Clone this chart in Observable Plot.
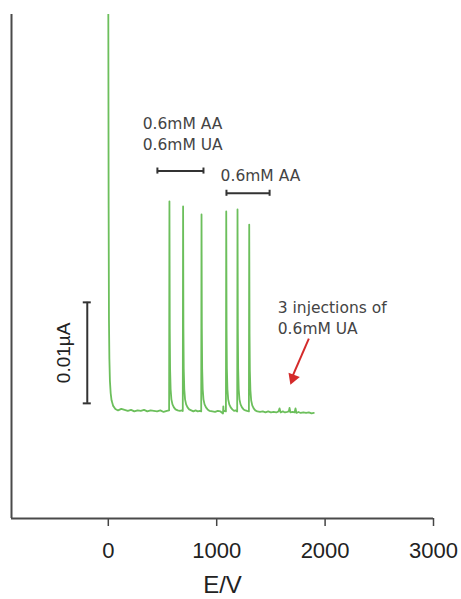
<!DOCTYPE html>
<html>
<head>
<meta charset="utf-8">
<script src="https://cdn.jsdelivr.net/npm/d3@7"></script>
<script src="https://cdn.jsdelivr.net/npm/@observablehq/plot@0.6"></script>
<style>
  html, body { margin: 0; padding: 0; background: #fff; }
  #chart { width: 461px; height: 599px; }
</style>
</head>
<body>
<div id="chart"></div>
<script>
// Amperometric trace (x: E/V axis units, y: current in nA; 10 nA = 0.01 µA)
const traceX = [
  -3, 0, 3, 6, 10, 15, 22, 30, 45, 65, 90, 120, 150, 180, 210, 240, 270, 300, 330, 360, 390, 420, 450, 480, 510, 540, 561,
  564, 567, 570, 575, 582, 592, 605, 620, 640, 660, 680, 687,
  690, 693, 696, 701, 708, 718, 731, 746, 765, 785, 805, 825, 845, 857,
  860, 863, 866, 871, 878, 888, 901, 916, 935, 960, 985, 1010, 1035, 1058, 1061, 1064, 1075, 1085,
  1088, 1091, 1094, 1099, 1106, 1116, 1129, 1144, 1160, 1175, 1189,
  1192, 1195, 1198, 1203, 1210, 1220, 1233, 1248, 1265, 1280, 1297,
  1300, 1303, 1306, 1311, 1318, 1328, 1341, 1356, 1375, 1400, 1425, 1450, 1475, 1500, 1525, 1550, 1570, 1580, 1590,
  1610, 1630, 1650, 1665, 1672, 1680, 1700, 1718, 1727, 1736, 1755, 1775, 1800, 1825, 1850, 1875, 1896
];
const traceY = [
  60, 40, 20, 9, 5, 2.8, 1.6, 0.9, 0.35, 0.05, -0.1, 0.05, -0.05, -0.15, -0.05, -0.2, -0.1, -0.15, -0.05, -0.2, -0.1, -0.15, -0.2, -0.1, -0.25, -0.15, -0.1,
  20.6, 8, 4, 2, 1, 0.5, 0.2, 0.0, -0.1, -0.15, -0.1, -0.15,
  20.1, 8, 4, 2, 1, 0.5, 0.2, 0.0, -0.1, -0.2, -0.1, -0.2, -0.15, -0.2,
  19.3, 8, 4, 2, 1, 0.5, 0.2, 0.0, -0.15, -0.2, -0.25, -0.15, -0.2, -0.4, 0.3, -0.2, -0.15, -0.2,
  19.6, 8, 4, 2, 1, 0.5, 0.2, 0.0, -0.15, -0.1, -0.2,
  19.8, 8, 4, 2, 1, 0.5, 0.2, 0.0, -0.1, -0.15, -0.2,
  18.3, 7.5, 3.8, 1.9, 0.9, 0.4, 0.1, -0.1, -0.2, -0.25, -0.2, -0.3, -0.2, -0.3, -0.25, -0.3, -0.2, 0.1, -0.3,
  -0.2, -0.3, -0.25, -0.2, 0.15, -0.3, -0.25, -0.3, 0.1, -0.35, -0.25, -0.35, -0.3, -0.35, -0.3, -0.4, -0.35
];
const trace = traceX.map((x, i) => ({x, y: traceY[i]}));

// axis
const xTicks = [0, 1000, 2000, 3000];
const xDomain = [-893, 3000];
const yDomain = [-10.8, 39.1];
const xLabel = "E/V";

// concentration brackets
const bracketX1 = [453, 1090];
const bracketX2 = [878, 1488];
const bracketY = [23.6, 21.4];
const brackets = bracketY.map((y, i) => ({x1: bracketX1[i], x2: bracketX2[i], y}));

// annotation texts
const noteText = ["0.6mM AA\n0.6mM UA", "0.6mM AA", "3 injections of\n0.6mM UA"];
const noteX = [317, 1036, 1563];
const noteY = [29.2, 24.1, 11.0];
const notes = noteText.map((t, i) => ({t, x: noteX[i], y: noteY[i]}));

// arrow
const arrowFrom = {x: 1850, y: 7.0};
const arrowTo = {x: 1700, y: 3.3};
const arrowTip = {x: 1703, y: 3.1};

// scale bar: 0.01 µA = 10 nA
const scaleX = -194;
const scaleY = [0.6, 10.6];
const scaleLabel = "0.01µA";
const scaleLabelX = -412;

const capDx = 37;   // half width of scale bar caps (x units)
const capDy = 0.3;  // half height of bracket caps (y units)

const font = "'Liberation Sans', Arial, sans-serif";
const noteFont = "'DejaVu Sans', sans-serif";

const chart = Plot.plot({
  width: 461,
  height: 599,
  marginTop: 14,
  marginBottom: 81,
  marginLeft: 11,
  marginRight: 28,
  style: {fontFamily: font, background: "#fff", color: "#222", overflow: "visible"},
  x: {domain: xDomain},
  y: {domain: yDomain, axis: null},
  marks: [
    Plot.axisX(xTicks, {tickSize: 8, tickPadding: 16, fontSize: 22, label: null, tickFormat: d => String(d), stroke: "#444", strokeWidth: 1.5, fill: "#222"}),
    Plot.ruleY([yDomain[0]], {stroke: "#4a4a4a", strokeWidth: 2}),
    Plot.ruleX([xDomain[0]], {stroke: "#4a4a4a", strokeWidth: 2}),
    Plot.text([xLabel], {x: (xDomain[0] + xDomain[1]) / 2, y: -17.4, text: d => d, fontSize: 24, fill: "#222"}),
    Plot.line(trace, {x: "x", y: "y", stroke: "#6cbf5c", strokeWidth: 1.8, clip: true}),
    // brackets
    Plot.ruleY(brackets, {x1: "x1", x2: "x2", y: "y", stroke: "#333", strokeWidth: 2}),
    Plot.ruleX(brackets, {x: "x1", y1: d => d.y - capDy, y2: d => d.y + capDy, stroke: "#333", strokeWidth: 2}),
    Plot.ruleX(brackets, {x: "x2", y1: d => d.y - capDy, y2: d => d.y + capDy, stroke: "#333", strokeWidth: 2}),
    // notes
    Plot.text(notes, {x: "x", y: "y", text: "t", textAnchor: "start", lineAnchor: "top", fontSize: 15.5, lineHeight: 1.35, fill: "#444", fontFamily: noteFont}),
    // arrow
    Plot.link([arrowFrom], {x1: "x", y1: "y", x2: () => arrowTo.x, y2: () => arrowTo.y, stroke: "#d42a2a", strokeWidth: 2}),
    Plot.dot([arrowTip], {x: "x", y: "y", symbol: "triangle", r: 4.5, fill: "#d42a2a", stroke: "none", rotate: 201}),
    // scale bar
    Plot.ruleX([scaleX], {y1: scaleY[0], y2: scaleY[1], stroke: "#333", strokeWidth: 2}),
    Plot.ruleY(scaleY, {x1: scaleX - capDx, x2: scaleX + capDx, y: d => d, stroke: "#333", strokeWidth: 2}),
    Plot.text([scaleLabel], {x: scaleLabelX, y: (scaleY[0] + scaleY[1]) / 2, text: d => d, rotate: -90, fontSize: 19, fill: "#222"})
  ]
});
document.getElementById("chart").appendChild(chart);
</script>
</body>
</html>
